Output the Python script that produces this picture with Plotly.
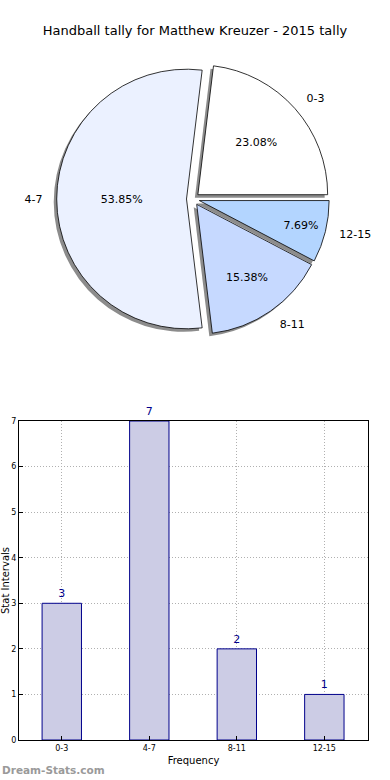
import plotly.graph_objects as go

categories = ["0-3", "4-7", "8-11", "12-15"]
counts = [3, 7, 2, 1]
pie_colors = ["#FFFFFF", "#EBF1FF", "#C6D9FF", "#B3D5FF"]
y_ticks = [0, 1, 2, 3, 4, 5, 6, 7]

W, H = 390, 780
cx, cy, rd = 194, 199, 137
sx, sy = -3, 3  # shadow offset (px)
rot = 90 - 360 * counts[0] / sum(counts)

def dom(cx, cy, r):
    return dict(x=[(cx - r) / W, (cx + r) / W], y=[1 - (cy + r) / H, 1 - (cy - r) / H])

fig = go.Figure()

# invisible, slightly larger pie carrying the outside category labels
fig.add_trace(go.Pie(
    labels=categories, values=counts, sort=False, direction="counterclockwise", rotation=rot,
    pull=[0.05] * 4, domain=dom(cx, cy, rd * 1.08),
    marker=dict(colors=["rgba(0,0,0,0)"] * 4, line=dict(width=0)),
    texttemplate="%{label}", textposition="outside",
    textfont=dict(family="DejaVu Sans", size=11, color="#000"),
    showlegend=False, hoverinfo="skip",
))

# shadow
fig.add_trace(go.Pie(
    labels=categories, values=counts, sort=False, direction="counterclockwise", rotation=rot,
    pull=[0.05] * 4, domain=dom(cx + sx, cy + sy, rd),
    marker=dict(colors=["#8c8c8c"] * 4, line=dict(width=0)),
    textinfo="none", showlegend=False, hoverinfo="skip",
))

fig.add_trace(go.Pie(
    labels=categories, values=counts, sort=False, direction="counterclockwise", rotation=rot,
    pull=[0.05] * 4, domain=dom(cx, cy, rd),
    marker=dict(colors=pie_colors, line=dict(color="#000", width=0.8)),
    texttemplate="%{percent:.2%}", textposition="inside", insidetextorientation="horizontal",
    textfont=dict(family="DejaVu Sans", size=11, color="#000"),
    showlegend=False,
))

fig.add_trace(go.Bar(
    x=categories, y=counts, width=0.45,
    marker=dict(color="#CCCCE5", line=dict(color="#00008B", width=1)),
    text=counts, textposition="outside", cliponaxis=False,
    textfont=dict(family="DejaVu Sans", size=11, color="#00008B"),
    xaxis="x", yaxis="y", showlegend=False,
))

fig.update_layout(
    width=W, height=H, margin=dict(l=0, r=0, t=0, b=0),
    paper_bgcolor="white", plot_bgcolor="white",
    font=dict(family="DejaVu Sans", color="#000"),
    title=dict(text="Handball tally for Matthew Kreuzer - 2015 tally", x=0.5, xanchor="center",
               y=1 - 30 / H, yanchor="middle", font=dict(size=13, color="#000")),
    xaxis=dict(domain=[19 / W, 370 / W], anchor="y", range=[-0.49, 3.5], automargin=False,
               showline=True, linecolor="#000", linewidth=1, mirror=True,
               showgrid=True, gridcolor="#b0b0b0", griddash="1px,2px", gridwidth=1,
               ticks="inside", ticklen=4, tickcolor="#000",
               tickfont=dict(size=8), title=dict(text="Frequency", font=dict(size=10), standoff=5)),
    yaxis=dict(domain=[1 - 740 / H, 1 - 421 / H], anchor="x", range=[0, 7], automargin=False,
               tickvals=y_ticks, showline=True, linecolor="#000", linewidth=1, mirror=True,
               showgrid=True, gridcolor="#b0b0b0", griddash="1px,2px", gridwidth=1, zeroline=False,
               ticks="inside", ticklen=4, tickcolor="#000",
               tickfont=dict(size=8), title=dict(text="Stat Intervals", font=dict(size=10), standoff=1)),
    annotations=[dict(text="<b>Dream-Stats.com</b>", x=0, y=1 - 770 / H, xref="paper", yref="paper",
                      xanchor="left", yanchor="middle", showarrow=False,
                      font=dict(size=10.5, color="#9a9a9a"))],
)

fig.write_html("out.html", config={"displayModeBar": False},
               post_script="document.body.style.margin='0';")
